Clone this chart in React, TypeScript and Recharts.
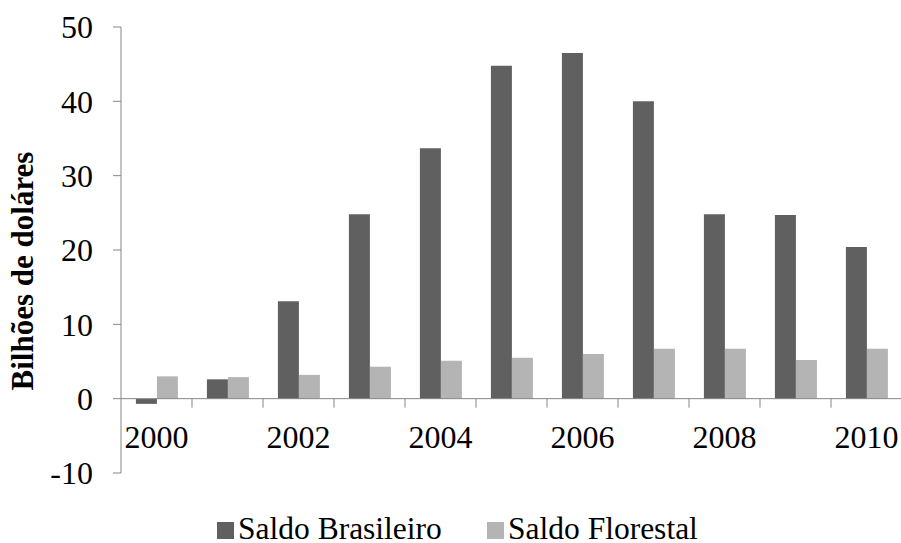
import React from 'react';
import { BarChart, Bar, XAxis, YAxis, ReferenceLine, Legend } from 'recharts';

const years = ['2000', '2001', '2002', '2003', '2004', '2005', '2006', '2007', '2008', '2009', '2010'];
const saldoBrasileiro = [-0.7, 2.6, 13.1, 24.8, 33.7, 44.8, 46.5, 40.0, 24.8, 24.7, 20.4];
const saldoFlorestal = [3.0, 2.9, 3.2, 4.3, 5.1, 5.5, 6.0, 6.7, 6.7, 5.2, 6.7];
const yTicks = [-10, 0, 10, 20, 30, 40, 50];
const xLabelYears = ['2000', '2002', '2004', '2006', '2008', '2010'];
const seriesNames = ['Saldo Brasileiro', 'Saldo Florestal'];
const seriesColors = ['#606060', '#b4b4b4'];

const data = years.map((y, i) => ({
  year: y,
  brasileiro: saldoBrasileiro[i],
  florestal: saldoFlorestal[i],
}));

const FONT = 'Liberation Serif, DejaVu Serif, serif';
const AXIS = '#868686';

function ZeroAxisOverlay(props: any) {
  const vb = props.viewBox || {};
  const x0 = vb.x ?? 0;
  const w = vb.width ?? 0;
  const y0 = vb.y ?? 0;
  const band = w / years.length;
  const marks = [];
  for (let k = 1; k <= years.length; k++) {
    const xx = x0 + band * k;
    marks.push(<line key={'t' + k} x1={xx} x2={xx} y1={y0} y2={y0 + 9} stroke={AXIS} strokeWidth={1} />);
  }
  const labels = years.map((yr, i) =>
    xLabelYears.includes(yr) ? (
      <text key={'l' + yr} x={x0 + band * (i + 0.5)} y={y0 + 49} textAnchor="middle" style={{ fontFamily: FONT }} fontSize={32} fill="#000">
        {yr}
      </text>
    ) : null
  );
  return (
    <g>
      {marks}
      {labels}
    </g>
  );
}

function YLabel() {
  return (
    <text x={33} y={271} transform="rotate(-90, 33, 271)" textAnchor="middle" style={{ fontFamily: FONT }} fontWeight="bold" fontSize={31} fill="#000">
      Bilhões de doláres
    </text>
  );
}

function LegendContent() {
  const xs = [217, 487];
  return (
    <svg width={903} height={40} style={{ display: 'block', overflow: 'visible' }}>
      {seriesNames.map((n, i) => (
        <g key={n}>
          <rect x={xs[i]} y={17} width={17} height={17} fill={seriesColors[i]} />
          <text x={xs[i] + 21} y={34} style={{ fontFamily: FONT }} fontSize={31.5} fill="#000">
            {n}
          </text>
        </g>
      ))}
    </svg>
  );
}

export default function App() {
  return (
    <div style={{ position: 'absolute', left: 0, top: 0, width: 901, height: 543, overflow: 'hidden', background: '#fff', fontFamily: FONT }}>
      <BarChart
        width={903}
        height={545}
        data={data}
        margin={{ top: 27, right: 1, left: 0, bottom: 32 }}
        barGap={0}
        barCategoryGap="21%"
      >
        <XAxis dataKey="year" hide />
        <YAxis
          width={121}
          domain={[-10, 50]}
          ticks={yTicks}
          interval={0}
          allowDataOverflow
          axisLine={{ stroke: AXIS }}
          tickLine={{ stroke: AXIS }}
          tickSize={8}
          tickMargin={20}
          tick={{ style: { fontFamily: FONT }, fontSize: 32, fill: '#000' }}
          label={<YLabel />}
        />
        <Bar dataKey="brasileiro" name={seriesNames[0]} fill={seriesColors[0]} isAnimationActive={false} />
        <Bar dataKey="florestal" name={seriesNames[1]} fill={seriesColors[1]} isAnimationActive={false} />
        <ReferenceLine y={0} stroke={AXIS} strokeWidth={1} label={<ZeroAxisOverlay />} />
        <Legend verticalAlign="bottom" wrapperStyle={{ left: 0, bottom: 0, width: 903, height: 40 }} content={<LegendContent />} />
      </BarChart>
    </div>
  );
}
